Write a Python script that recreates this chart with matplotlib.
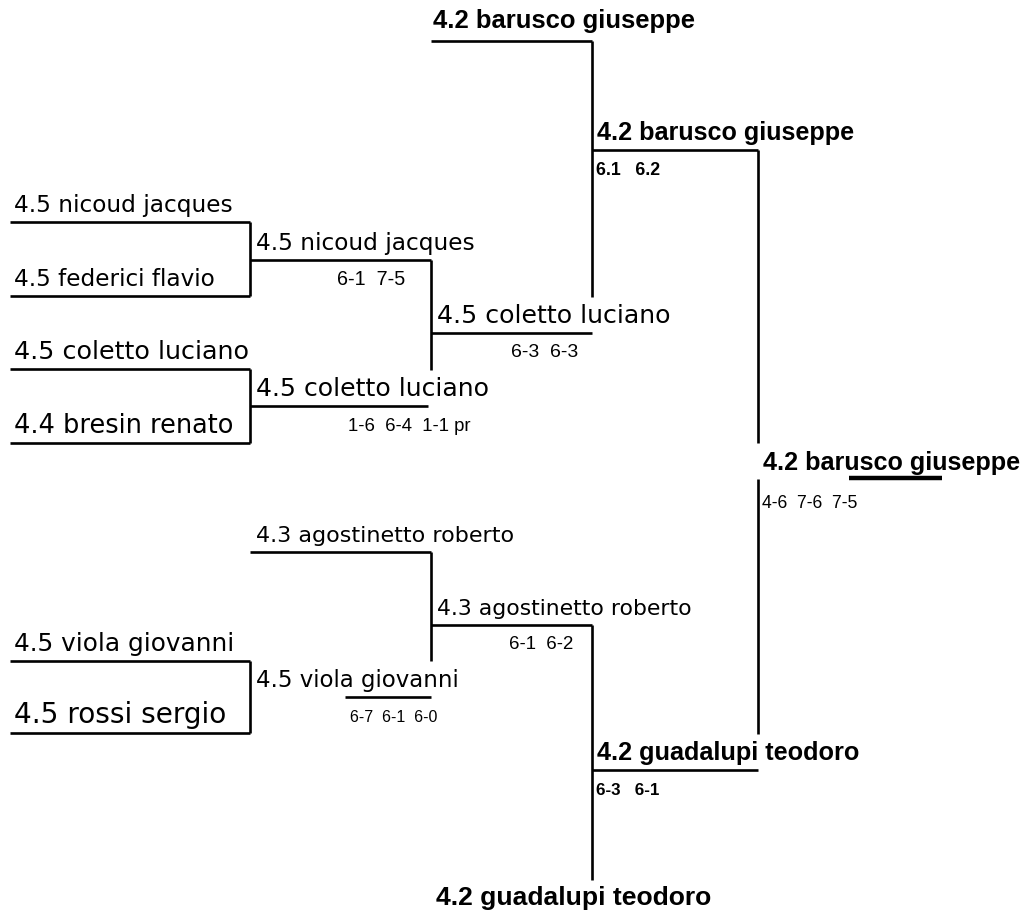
import matplotlib
matplotlib.use("Agg")
import matplotlib.pyplot as plt

# bracket contents
round1 = ["4.5 nicoud jacques", "4.5 federici flavio", "4.5 coletto luciano",
          "4.4 bresin renato", "4.5 viola giovanni", "4.5 rossi sergio"]
round2 = ["4.5 nicoud jacques", "4.5 coletto luciano",
          "4.3 agostinetto roberto", "4.5 viola giovanni"]
round2_scores = ["6-1  7-5", "1-6  6-4  1-1 pr", "", "6-7  6-1  6-0"]
round3 = ["4.2 barusco giuseppe", "4.5 coletto luciano",
          "4.3 agostinetto roberto", "4.2 guadalupi teodoro"]
round3_scores = ["", "6-3  6-3", "6-1  6-2", ""]
semis = ["4.2 barusco giuseppe", "4.2 guadalupi teodoro"]
semis_scores = ["6.1   6.2", "6-3   6-1"]
winner = "4.2 barusco giuseppe"
winner_score = "4-6  7-6  7-5"

# layout (pixel coordinates, y down)
r1_y = [222, 296, 369, 443, 661, 733]
r2_y = [260, 406, 552, 697]
r3_y = [41, 333, 625, 905]
sf_y = [150, 770]
X0, X1, X2, X3, X4 = 10, 250, 431, 592, 758
# text spans (left, right)
r1_span = [(14, 232), (14, 214), (14, 248), (14, 232), (14, 232), (14, 226)]
r2_span = [(256, 474), (256, 488), (256, 513), (256, 458)]
r2_score_span = [(337, 405), (348, 470), None, (350, 437)]
r3_span = [(433, 693), (437, 670), (437, 690), (436, 710)]
r3_score_span = [None, (511, 578), (509, 573), None]
sf_span = [(597, 853), (597, 858)]
sf_score_span = [(596, 660), (596, 659)]

fig = plt.figure(figsize=(10.23, 9.15), dpi=100)
ax = fig.add_axes([0, 0, 1, 1])
ax.set_xlim(0, 1023)
ax.set_ylim(915, 0)
ax.axis("off")
renderer = fig.canvas.get_renderer()

REG = "DejaVu Sans"
ARIAL = "Liberation Sans"
lw = 1.9


def hline(y, xa, xb, w=lw):
    ax.plot([xa, xb], [y, y], color="black", lw=w, solid_capstyle="butt")


def vline(x, ya, yb):
    ax.plot([x, x], [ya, yb], color="black", lw=lw, solid_capstyle="butt")


def label(span, y, s, bold=False, family=REG):
    # fit the text between the two x positions, like the page does
    if bold:
        family = ARIAL
    t = ax.text(span[0], y, s, fontsize=12, family=family, fontstretch="normal",
                va="baseline", ha="left", fontweight="bold" if bold else "normal")
    w = t.get_window_extent(renderer).width
    t.set_fontsize(12 * (span[1] - span[0]) / w)
    return t


# first round
for name, y, sp in zip(round1, r1_y, r1_span):
    label(sp, y - 10, name)
    hline(y, X0, X1)
for a, b in [(0, 1), (2, 3), (4, 5)]:
    vline(X1, r1_y[a], r1_y[b])

# second round
r2_ends = [X2, 428, X2, X2]
r2_starts = [X1, X1, X1, 345]
for i, (name, y) in enumerate(zip(round2, r2_y)):
    label(r2_span[i], y - 10, name)
    hline(y, r2_starts[i], r2_ends[i])
    if round2_scores[i]:
        label(r2_score_span[i], y + 25, round2_scores[i], family=ARIAL)
vline(X2, r2_y[0], 370)
vline(X2, r2_y[2], r1_y[4])

# third round
for i, (name, y) in enumerate(zip(round3, r3_y)):
    if i == 3:
        label(r3_span[i], y, name, bold=True)
        continue
    label(r3_span[i], y - 13 if i == 0 else y - 10, name, bold=(i == 0))
    hline(y, X2, X3)
    if round3_scores[i]:
        label(r3_score_span[i], y + 24, round3_scores[i], family=ARIAL)
vline(X3, r3_y[0], 297)
vline(X3, r3_y[2], 880)

# semi finals
for name, y, sc, sp, ssp in zip(semis, sf_y, semis_scores, sf_span, sf_score_span):
    label(sp, y - 10, name, bold=True)
    hline(y, X3, X4)
    label(ssp, y + 25, sc, bold=True)
vline(X4, sf_y[0], 443)
vline(X4, 479, 734)

# final
label((763, 1019), 470, winner, bold=True)
hline(478, 849, 942, w=3.2)
label((762, 858), 508, winner_score, family=ARIAL)

fig.savefig("out.png", dpi=100, facecolor="white")
